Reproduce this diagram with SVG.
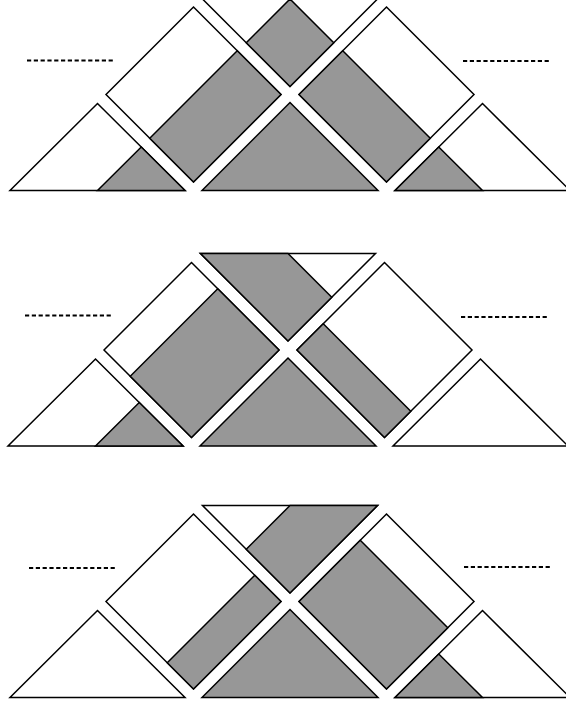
<svg xmlns="http://www.w3.org/2000/svg" width="566" height="706" viewBox="0 0 566 706">
<style>
.pc{fill:#ffffff;stroke:#000000;stroke-width:1.5;stroke-linejoin:miter}
.gr{fill:#979797;stroke:#000000;stroke-width:1.5;stroke-linejoin:miter}
.dash{stroke:#000000;stroke-width:1.8;stroke-dasharray:4.2,2.6;fill:none}
</style>
<rect x="0" y="0" width="566" height="706" fill="#ffffff"/>

<g id="panel1">
  <g id="p1-left-triangle">
    <polygon class="pc" points="10,190.5 185,190.5 97.5,103.5"/>
    <polygon class="gr" points="97.5,190.5 141.25,147 185,190.5"/>
  </g>
  <g id="p1-left-square">
    <polygon class="pc" points="193.5,7 281,94.5 193.5,182 106,94.5"/>
    <polygon class="gr" points="149.75,138.25 237.25,50.75 281,94.5 193.5,182"/>
  </g>
  <g id="p1-top-triangle">
    <polygon class="pc" points="202.5,-1 377.5,-1 290,86.5"/>
    <polygon class="gr" points="290,-1 333.75,42.75 290,86.5 246.25,42.75"/>
  </g>
  <g id="p1-center-triangle">
    <polygon class="gr" points="202,190.5 378,190.5 290,102.5"/>
  </g>
  <g id="p1-right-square">
    <polygon class="pc" points="386.5,7 474,94.5 386.5,182 299,94.5"/>
    <polygon class="gr" points="299,94.5 342.75,50.75 430.25,138.25 386.5,182"/>
  </g>
  <g id="p1-right-triangle">
    <polygon class="pc" points="395,190.5 570,190.5 482.5,103.5"/>
    <polygon class="gr" points="395,190.5 438.75,147 482.5,190.5"/>
  </g>
  <g id="p1-dashes">
    <line class="dash" x1="27" y1="60.5" x2="115" y2="60.5"/>
    <line class="dash" x1="463" y1="61" x2="551" y2="61"/>
  </g>
</g>

<g id="panel2">
  <g id="p2-left-triangle">
    <polygon class="pc" points="8,446 183,446 95.5,359"/>
    <polygon class="gr" points="95.5,446 139.25,402.5 183,446"/>
  </g>
  <g id="p2-left-square">
    <polygon class="pc" points="191.5,262.5 279,350 191.5,437.5 104,350"/>
    <polygon class="gr" points="130.25,376.25 217.75,288.75 279,350 191.5,437.5"/>
  </g>
  <g id="p2-top-triangle">
    <polygon class="pc" points="200.5,253.5 375.5,253.5 288,341"/>
    <polygon class="gr" points="200.5,253.5 288,253.5 331.75,297.25 288,341"/>
  </g>
  <g id="p2-center-triangle">
    <polygon class="gr" points="200,446 376,446 288,358"/>
  </g>
  <g id="p2-right-square">
    <polygon class="pc" points="384.5,262.5 472,350 384.5,437.5 297,350"/>
    <polygon class="gr" points="297,350 323.25,323.75 410.75,411.25 384.5,437.5"/>
  </g>
  <g id="p2-right-triangle">
    <polygon class="pc" points="393,446 568,446 480.5,359"/>
  </g>
  <g id="p2-dashes">
    <line class="dash" x1="25" y1="315.5" x2="113" y2="315.5"/>
    <line class="dash" x1="461" y1="317" x2="549" y2="317"/>
  </g>
</g>

<g id="panel3">
  <g id="p3-left-triangle">
    <polygon class="pc" points="10,697.5 185,697.5 97.5,610.5"/>
  </g>
  <g id="p3-left-square">
    <polygon class="pc" points="193.5,514 281,601.5 193.5,689 106,601.5"/>
    <polygon class="gr" points="167.25,662.75 254.75,575.25 281,601.5 193.5,689"/>
  </g>
  <g id="p3-top-triangle">
    <polygon class="pc" points="202.5,505.5 377.5,505.5 290,593"/>
    <polygon class="gr" points="290,505.5 377.5,505.5 290,593 246.25,549.25"/>
  </g>
  <g id="p3-center-triangle">
    <polygon class="gr" points="202,697.5 378,697.5 290,609.5"/>
  </g>
  <g id="p3-right-square">
    <polygon class="pc" points="386.5,514 474,601.5 386.5,689 299,601.5"/>
    <polygon class="gr" points="299,601.5 360.25,540.25 447.75,627.75 386.5,689"/>
  </g>
  <g id="p3-right-triangle">
    <polygon class="pc" points="395,697.5 570,697.5 482.5,610.5"/>
    <polygon class="gr" points="395,697.5 438.75,654 482.5,697.5"/>
  </g>
  <g id="p3-dashes">
    <line class="dash" x1="29" y1="568" x2="117" y2="568"/>
    <line class="dash" x1="464" y1="567" x2="552" y2="567"/>
  </g>
</g>
</svg>
